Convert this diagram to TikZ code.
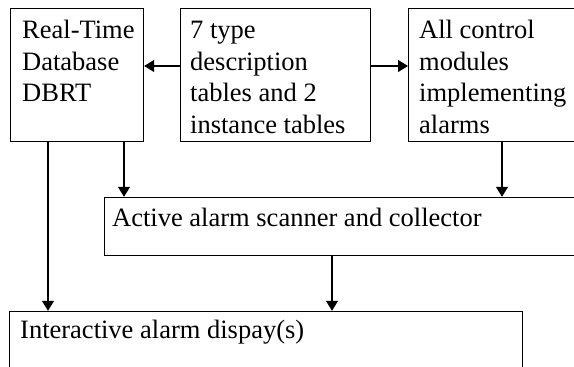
\documentclass[tikz,border=0pt]{standalone}
\usepackage{fontspec}
\setmainfont{Liberation Serif}
\usetikzlibrary{arrows.meta,calc}
\begin{document}
\begin{tikzpicture}[x=1pt,y=1pt,
  box/.style={draw=black,line width=1.2pt,inner sep=0pt},
  txt/.style={anchor=base west,inner sep=0pt,font=\fontsize{26.5}{31.5}\selectfont},
  arr/.style={line width=1.2pt,-{Triangle[length=10pt,width=12pt]}}]
\useasboundingbox (0,0) rectangle (574,367);
\clip (0,0) rectangle (574,367);
% boxes
\node[box,minimum width=133pt,minimum height=133pt,anchor=south west] (b1) at (10,225) {};
\node[box,minimum width=190pt,minimum height=133pt,anchor=south west] (b2) at (180,225) {};
\node[box,minimum width=190pt,minimum height=133pt,anchor=south west] (b3) at (408,225) {};
\node[box,minimum width=500pt,minimum height=58pt,anchor=south west] (b4) at (104,111) {};
\node[box,minimum width=513pt,minimum height=80pt,anchor=south west] (b5) at (9,-25) {};
% texts
\node[txt] (t1) at ($(b1.north west)+(12,-31)$) {\vtop{\hbox{Real-Time}\hbox{Database}\hbox{DBRT}}};
\node[txt] (t2) at ($(b2.north west)+(10,-31)$) {\vtop{\hbox{7 type}\hbox{description}\hbox{tables and 2}\hbox{instance tables}}};
\node[txt] (t3) at ($(b3.north west)+(11,-31)$) {\vtop{\hbox{All control}\hbox{modules}\hbox{implementing}\hbox{alarms}}};
\node[txt] (t4) at ($(b4.north west)+(8,-30)$) {Active alarm scanner and collector};
\node[txt] (t5) at ($(b5.north west)+(11,-28)$) {Interactive alarm dispay(s)};
% connectors
\draw[arr] (b2.west |- 0,301) -- (b1.east |- 0,301);
\draw[arr] (b2.east |- 0,301) -- (b3.west |- 0,301);
\draw[arr] (b1.south -| 124,0) -- (b4.north -| 124,0);
\draw[arr] (b1.south -| 48,0) -- (b5.north -| 48,0);
\draw[arr] (b3.south -| 502,0) -- (b4.north -| 502,0);
\draw[arr] (b4.south -| 332,0) -- (b5.north -| 332,0);
\end{tikzpicture}
\end{document}
